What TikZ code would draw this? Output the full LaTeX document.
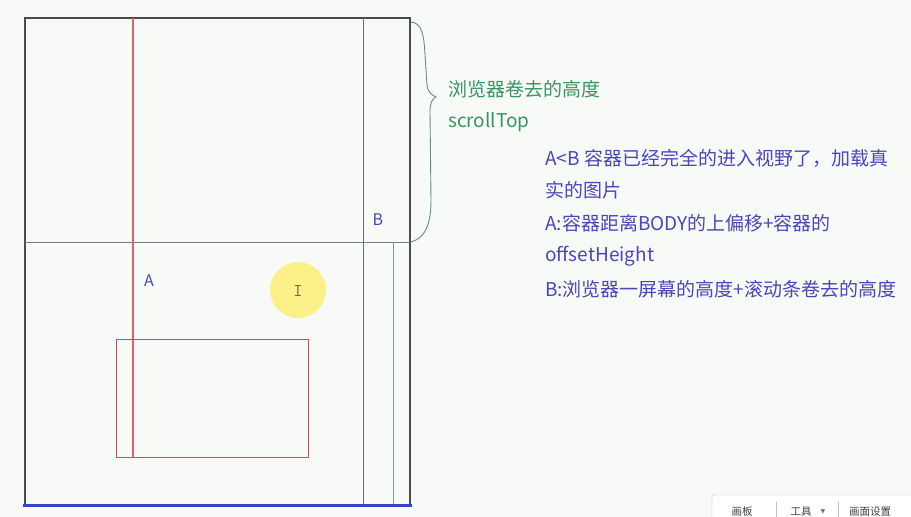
\documentclass[tikz,border=0pt]{standalone}
\usepackage{fontspec}
\setmainfont{Noto Sans CJK SC}
\newfontfamily\djv{DejaVu Sans}
\begin{document}
\begin{tikzpicture}[x=1pt,y=-1pt]
\definecolor{bg}{RGB}{248,250,248}
\definecolor{bracec}{RGB}{95,145,135}
\definecolor{bottomblue}{RGB}{55,65,205}
\definecolor{redc}{RGB}{215,75,75}
\definecolor{redv}{RGB}{222,100,100}
\definecolor{greenc}{RGB}{55,150,95}
\definecolor{bluec}{RGB}{75,70,185}
\definecolor{frameC}{RGB}{75,75,75}
\definecolor{midC}{RGB}{120,125,125}
\definecolor{grayblue}{RGB}{105,105,140}
\definecolor{tealC}{RGB}{100,165,140}
\tikzset{
  frame/.style={draw=frameC,line width=1.1pt},
  redline/.style={draw=redc,line width=1pt},
  greentext/.style={text=greenc,font=\fontsize{19}{21}\selectfont,anchor=west,inner sep=0pt},
  bluetext/.style={text=bluec,font=\fontsize{19}{21}\selectfont,anchor=west,inner sep=0pt},
  letter/.style={text=bluec,font=\fontsize{16}{18}\selectfont,inner sep=0pt},
  tooltext/.style={text=black!75,font=\fontsize{10.5}{12}\selectfont,inner sep=0pt}}
\fill[bg] (0,0) rectangle (911,517);
\useasboundingbox (0,0) rectangle (911,517);
% coordinates
\coordinate (tl) at (25,18);
\coordinate (tr) at (410,18);
\coordinate (bl) at (25,505);
\coordinate (br) at (410,505);
\coordinate (ml) at (25,242);
\coordinate (mr) at (410,242);
% frame
\draw[frame] (bl) -- (tl) -- (tr) -- (br);
\draw[draw=midC,line width=0.9pt] (ml) -- (mr);
\draw[draw=grayblue,line width=0.9pt] (363,18) -- (363,505);
\draw[draw=tealC,line width=0.9pt] (393,243) -- (393,505);
\fill[redv] (132.4,18) rectangle (133.75,457);
\draw[redline] (116,339) rectangle (308,457);
\draw[draw=bottomblue,line width=3pt] (23,505) -- (412,505);
% labels
\node[letter] (A) at (149,281) {A};
\node[letter] (B) at (378,220) {B};
% brace
\draw[draw=bracec,line width=0.9pt] (411,22) .. controls (422,23) and (424,35) .. (425,55) -- (427,85) .. controls (428,93) and (432,95) .. (436,97) .. controls (432,99) and (430,103) .. (430,112) -- (431,200) .. controls (431,225) and (425,238) .. (411,242);
% texts
\node[greentext] (t1) at (448,89) {浏览器卷去的高度};
\node[greentext] (t2) at (448,122) {scrollTop};
\node[bluetext] (b1) at (545,158) {A<B 容器已经完全的进入视野了，加载真};
\node[bluetext] (b2) at (545,190) {实的图片};
\node[bluetext] (b3) at (545,223) {A:容器距离BODY的上偏移+容器的};
\node[bluetext] (b4) at (545,256) {offsetHeight};
\node[bluetext] (b5) at (545,289) {B:浏览器一屏幕的高度+滚动条卷去的高度};
% cursor highlight
\fill[yellow!85!orange!60,opacity=0.75] (298,290) circle (28);
\node[text=black!60,font=\fontsize{18}{18}\selectfont\ttfamily,inner sep=0pt] (cur) at (298,291) {I};
% toolbar
\draw[draw=black!25,fill=white,rounded corners=2pt] (712,495) rectangle (930,530);
\node[tooltext] (tb1) at (742,512) {画板};
\draw[draw=black!25] (776,502) -- (776,517);
\node[tooltext] (tb2) at (801,512) {工具};
\node[text=black!55,font=\djv\fontsize{6}{6}\selectfont,inner sep=0pt] (tb2a) at (823,512) {▼};
\draw[draw=black!25] (838,502) -- (838,517);
\node[tooltext] (tb3) at (870,512) {画面设置};
\end{tikzpicture}
\end{document}
